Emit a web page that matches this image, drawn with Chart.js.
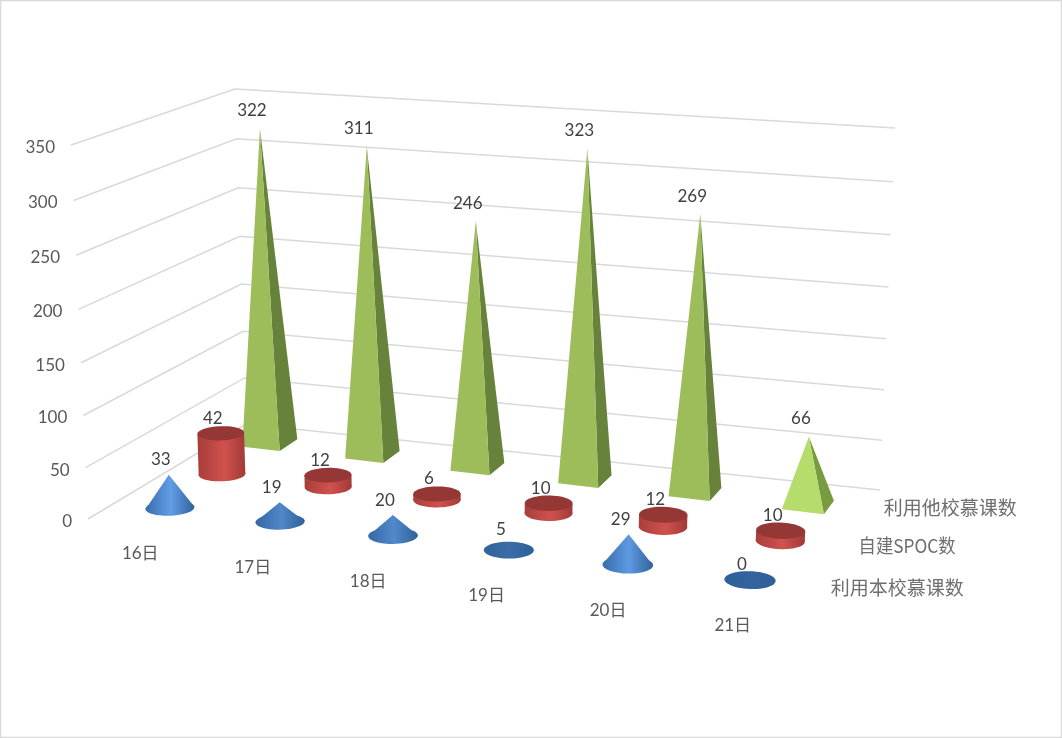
<!DOCTYPE html>
<html>
<head>
<meta charset="utf-8">
<script src="https://cdn.jsdelivr.net/npm/chart.js@4"></script>
<style>
  html, body { margin: 0; padding: 0; background: #fff; }
  canvas { display: block; }
</style>
</head>
<body>
<canvas id="chart3d" width="1062" height="738"></canvas>
<script>
    const days = ['16日', '17日', '18日', '19日', '20日', '21日'];
    const ownMooc = [33, 19, 20, 5, 29, 0];
    const spoc = [42, 12, 6, 10, 12, 10];
    const otherMooc = [322, 311, 246, 323, 269, 66];
    const valueTicks = [0, 50, 100, 150, 200, 250, 300, 350];

    const TEXT = '#595959';
    const NUM_FONT = '17px Lato, "Noto Sans CJK SC"';
    const CAT_FONT = '17px Lato, "Noto Sans CJK SC"';
    const SER_FONT = '19px "Noto Sans CJK SC"';
    const SER_WIDTHS = [133, 97, 133];

    // Unit square to quad, used for the floor and the top of the 3D box
    function quadMap(a, b, c, d) {
      const dx1 = b[0] - c[0], dx2 = d[0] - c[0], sx = a[0] - b[0] + c[0] - d[0];
      const dy1 = b[1] - c[1], dy2 = d[1] - c[1], sy = a[1] - b[1] + c[1] - d[1];
      const det = dx1 * dy2 - dx2 * dy1;
      const g = (sx * dy2 - dx2 * sy) / det, h = (dx1 * sy - sx * dy1) / det;
      const A = b[0] - a[0] + g * b[0], B = d[0] - a[0] + h * d[0];
      const D = b[1] - a[1] + g * b[1], E = d[1] - a[1] + h * d[1];
      return function(u, v) {
        const w = g * u + h * v + 1;
        return [(A * u + B * v + a[0]) / w, (D * u + E * v + a[1]) / w];
      };
    }

    // box corners: front-left, front-right, back-right, back-left
    const floorCorners = [[88, 519], [800, 603], [880, 490], [246, 424]];
    const roofCorners = [[71, 145], [820, 208], [895, 128], [235, 89]];
    const floorMap = quadMap.apply(null, floorCorners);
    const roofMap = quadMap.apply(null, roofCorners);
    // floor again, spanned by the centres of the outer category/series slots
    const slotMap = quadMap([170, 508], [750, 580], [808, 505], [270, 443]);

    function depthEase(t) {
      return t / (1 + 0.045 * (1 - t));
    }

    function project(u, v, t) {
      const k = depthEase(t);
      const p0 = floorMap(u, v), p1 = roofMap(u, v);
      return [p0[0] + (p1[0] - p0[0]) * k, p0[1] + (p1[1] - p0[1]) * k];
    }

    // rise of a value above the floor at a given slot
    function rise(u, s, t) {
      const v = 0.2 + 0.35 * s;
      const k = depthEase(t);
      return [0, 1].map(function(n) {
        const edge = function(i) { return roofCorners[i][n] - floorCorners[i][n]; };
        const front = edge(0) * (1 - u) + edge(1) * u;
        const back = edge(3) * (1 - u) + edge(2) * u;
        return (front * (1 - v) + back * v) * k;
      });
    }

    function floorAt(u, s, du, dv) {
      return slotMap((u - 1 / 12) * 1.2 + du, s / 2 + dv);
    }

    function ring(u, s, d) {
      const pts = [];
      for (let i = 0; i < 48; i++) {
        const a = i / 48 * Math.PI * 2;
        const p = floorAt(u, s, 0.04 * Math.cos(a), 0.103 * Math.sin(a));
        pts.push([p[0] + d[0], p[1] + d[1]]);
      }
      return pts;
    }

    function fillPoly(ctx, pts, color) {
      ctx.beginPath();
      pts.forEach(function(p, i) { i ? ctx.lineTo(p[0], p[1]) : ctx.moveTo(p[0], p[1]); });
      ctx.closePath();
      ctx.fillStyle = color;
      ctx.fill();
    }

    function extremes(pts) {
      let l = pts[0], r = pts[0];
      pts.forEach(function(p) {
        if (p[0] < l[0]) l = p;
        if (p[0] > r[0]) r = p;
      });
      return [l, r];
    }

    function mix(c1, c2, f) {
      return 'rgb(' + c1.map(function(c, i) { return Math.round(c + (c2[i] - c) * f); }).join(',') + ')';
    }

    function drawCone(ctx, u, s, t) {
      const base = ring(u, s, [0, 0]);
      const d = rise(u, s, t);
      const c = floorAt(u, s, 0, 0);
      const apex = [c[0] + d[0], c[1] + d[1]];
      const e = extremes(base);
      const f = Math.min(1, t / 0.09);
      const g = ctx.createLinearGradient(e[0][0], 0, e[1][0], 0);
      g.addColorStop(0, mix([47, 95, 150], [56, 110, 174], f));
      g.addColorStop(0.52, mix([52, 100, 158], [98, 158, 230], f));
      g.addColorStop(1, mix([47, 95, 150], [50, 98, 155], f));
      fillPoly(ctx, base, g);
      if (t > 0) fillPoly(ctx, [e[0], apex, e[1]], g);
      return apex;
    }

    function drawCylinder(ctx, u, s, t) {
      const d = rise(u, s, t);
      const base = ring(u, s, [0, 0]);
      const top = ring(u, s, d);
      const a = extremes(base), b = extremes(top);
      const g = ctx.createLinearGradient(a[0][0], 0, a[1][0], 0);
      g.addColorStop(0, '#a83e3b');
      g.addColorStop(0.55, '#d0524e');
      g.addColorStop(1, '#a23a37');
      fillPoly(ctx, base, g);
      fillPoly(ctx, [a[0], b[0], b[1], a[1]], g);
      fillPoly(ctx, top, '#953735');
      const c = floorAt(u, s, 0, 0);
      return [c[0] + d[0], c[1] + d[1]];
    }

    function drawPyramid(ctx, u, s, t, light) {
      const du = 0.0366, dv = 0.097;
      const fl = floorAt(u, s, -du, -dv), fr = floorAt(u, s, du, -dv), br = floorAt(u, s, du, dv);
      const c = floorAt(u, s, 0, 0);
      const d = rise(u, s, t);
      const apex = [c[0] + d[0] - 1.5, c[1] + d[1] * (1 + 0.02 * u) - 1];
      fillPoly(ctx, [fr, br, apex], light ? '#779b3e' : '#67823a');
      fillPoly(ctx, [fl, fr, apex], light ? '#b6dc6c' : '#9dbd5b');
      return apex;
    }

    const shapes = { cone: drawCone, cylinder: drawCylinder, pyramid: drawPyramid };

    class Solid3dController extends Chart.BarController {
      draw() {
        const ctx = this.chart.ctx;
        const xs = this.chart.scales.x, ys = this.chart.scales.y;
        const ds = this.getDataset();
        const s = this.index;
        ds.data.forEach(function(val, i) {
          const u = (xs.getPixelForValue(i) - xs.left) / xs.width;
          const t = (ys.bottom - ys.getPixelForValue(val)) / ys.height;
          const top = shapes[ds.shape](ctx, u, s, t, ds.shape === 'pyramid' && i === ds.data.length - 1);
          ctx.font = NUM_FONT;
          ctx.fillStyle = '#404040';
          ctx.textAlign = 'center';
          ctx.textBaseline = 'middle';
          ctx.fillText(String(val), top[0] - 8, top[1] - (ds.shape === 'pyramid' ? 18 : 15));
        });
      }
    }
    Solid3dController.id = 'solid3d';
    Solid3dController.defaults = Chart.BarController.defaults;
    Chart.register(Solid3dController);

    // walls, axis labels, series labels
    const boxPlugin = {
      id: 'box3d',
      beforeDatasetsDraw: function(chart) {
        const ctx = chart.ctx;
        const xs = chart.scales.x, ys = chart.scales.y;
        ctx.save();
        ctx.fillStyle = '#fff';
        ctx.fillRect(0, 0, chart.width, chart.height);
        ctx.strokeStyle = '#d9d9d9';
        ctx.lineWidth = 1.5;
        ctx.strokeRect(0.5, 0.5, chart.width - 1, chart.height - 1);

        ys.ticks.forEach(function(tick) {
          const t = (ys.bottom - ys.getPixelForValue(tick.value)) / ys.height;
          const a = project(0, 0, t), b = project(0, 1, t), c = project(1, 1, t);
          ctx.beginPath();
          ctx.moveTo(a[0], a[1]);
          ctx.lineTo(b[0], b[1]);
          ctx.lineTo(c[0], c[1]);
          ctx.stroke();
          ctx.font = NUM_FONT;
          ctx.fillStyle = TEXT;
          ctx.textAlign = 'right';
          ctx.textBaseline = 'middle';
          ctx.fillText(String(tick.value), a[0] - 16, a[1] + 2.5);
        });

        ctx.font = CAT_FONT;
        ctx.textAlign = 'center';
        days.forEach(function(day, i) {
          const u = (xs.getPixelForValue(i) - xs.left) / xs.width;
          const p = floorAt(u, 0, 0, 0);
          ctx.fillText(day, p[0] - 31 + 15 * u, p[1] + 45.5);
        });

        ctx.font = SER_FONT;
        ctx.textAlign = 'left';
        ctx.fillStyle = '#6e6e6e';
        chart.data.datasets.forEach(function(ds, i) {
          const p = project(1, 0.13 + 0.35 * i, 0);
          ctx.fillText(ds.label, p[0] + 19 - 1.5 * i, p[1] + 1, SER_WIDTHS[i]);
        });
        ctx.restore();
      }
    };

    new Chart(document.getElementById('chart3d').getContext('2d'), {
      type: 'bar',
      data: {
        labels: days,
        datasets: [
          { type: 'solid3d', label: '利用本校慕课数', shape: 'cone', data: ownMooc, clip: false },
          { type: 'solid3d', label: '自建SPOC数', shape: 'cylinder', data: spoc, clip: false },
          { type: 'solid3d', label: '利用他校慕课数', shape: 'pyramid', data: otherMooc, clip: false }
        ]
      },
      options: {
        responsive: false,
        animation: false,
        layout: { padding: { left: 88, right: 262, top: 145, bottom: 219 } },
        plugins: { legend: { display: false }, tooltip: { enabled: false } },
        scales: {
          x: { type: 'category', offset: true, display: false },
          y: { type: 'linear', min: 0, max: valueTicks[valueTicks.length - 1], display: false, ticks: { stepSize: valueTicks[1] } }
        }
      },
      plugins: [boxPlugin]
    });
</script>
</body>
</html>
